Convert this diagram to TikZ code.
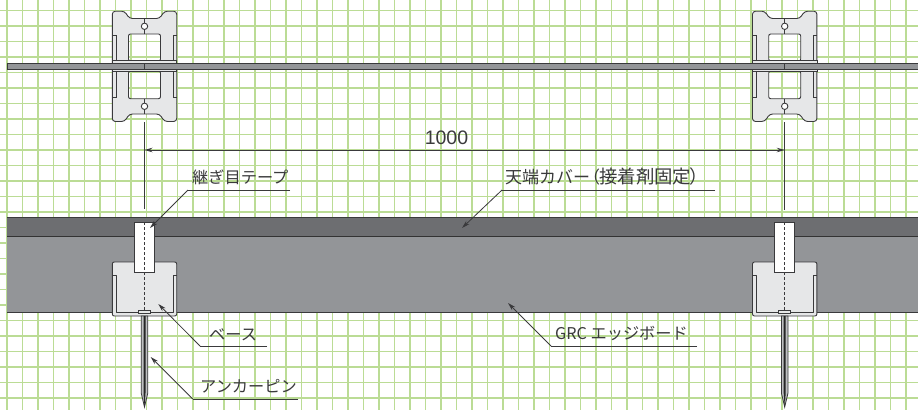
\documentclass[tikz,border=0pt]{standalone}
\usepackage{fontspec}
\setmainfont{Liberation Sans}
\newfontfamily\jp{Noto Sans CJK JP}
\usetikzlibrary{arrows.meta}
\definecolor{gridg}{HTML}{BBDC95}
\definecolor{clipf}{HTML}{E6E7E8}
\definecolor{cover}{HTML}{6D6E71}
\definecolor{board}{HTML}{939598}
\definecolor{ink}{HTML}{3A3A3C}
\tikzset{
  outl/.style={draw=ink,line width=0.9pt},
  leader/.style={draw=ink,line width=0.8pt,-{Stealth[length=8pt,width=4.5pt]}},
  uline/.style={draw=ink,line width=1pt},
  lab/.style={font=\jp\fontsize{16.2}{16.2}\selectfont,text=ink,inner sep=0pt},
  clippart/.pic={
    \fill[clipf,draw=ink,line width=0.9pt,even odd rule,rounded corners=3pt]
      (-32.2,11.2) -- (-20,11.2) -- (-15,18.5) -- (15,18.5) -- (20,11.2)
      -- (32.2,11.2) -- (32.2,121.5) -- (20,121.5) -- (15,114) -- (-15,114) -- (-20,121.5)
      -- (-32.2,121.5) -- cycle
      [rounded corners=2pt]
      (-16,34) -- (16,34) -- (16,61) -- (-16,61) -- cycle
      (-16,71) -- (16,71) -- (16,98.7) -- (-16,98.7) -- cycle;
    \draw[outl] (-32.2,35) -- (-28.5,35) -- (-28.5,60);
    \draw[outl] (32.2,35) -- (28.5,35) -- (28.5,60);
    \draw[outl] (-32.2,97.5) -- (-28.5,97.5) -- (-28.5,71);
    \draw[outl] (32.2,97.5) -- (28.5,97.5) -- (28.5,71);
    \fill[clipf,draw=ink,line width=0.6pt] (-32.2,60.5) rectangle (32.2,71.5);
    \draw[outl] (0,18.5) -- (0,34) (0,98.7) -- (0,114);
    \filldraw[fill=white,draw=ink,line width=0.9pt] (0,26.3) circle (3.2);
    \filldraw[fill=white,draw=ink,line width=0.9pt] (0,106.3) circle (3.2);
  },
  basepart/.pic={
    \fill[clipf,draw=ink,line width=0.9pt,rounded corners=2pt] (-32.2,316) -- (-32.2,262) -- (32.2,262) -- (32.2,316) -- cycle;
    \draw[outl,line join=round] (-32.2,275) -- (-28.5,275) -- (-28.5,312.5) -- (28.5,312.5) -- (28.5,275) -- (32.2,275);
    \fill[white,draw=ink,line width=0.9pt] (-9.8,222) rectangle (9.8,272);
    \draw[ink,line width=0.9pt,dash pattern=on 3pt off 2pt] (0,222) -- (0,310);
    \fill[clipf,draw=ink,line width=0.8pt] (-6,310) rectangle (6,313.4);
    \fill[board!60!white,draw=ink,line width=0.8pt] (-3.3,316) -- (-3.3,393) -- (0,407) -- (3.3,393) -- (3.3,316) -- cycle;
    \fill[black!85] (-1,316) -- (-1,393) -- (0,407) -- (1,393) -- (1,316) -- cycle;
  }
}
\begin{document}
\begin{tikzpicture}[x=1pt,y=-1pt]
\useasboundingbox (0,0) rectangle (918,410);
\fill[white] (0,0) rectangle (918,410);
% grid
\foreach \k in {0,...,58} \draw[gridg,line width=1.2pt] ({7+15.5*\k},0) -- ({7+15.5*\k},410);
\foreach \k in {0,...,25} \draw[gridg,line width=1.2pt] (0,{10.5+15.5*\k}) -- (918,{10.5+15.5*\k});
% board
\fill[cover] (7,217) rectangle (918,236);
\fill[board] (7,236) rectangle (918,312.7);
\draw[ink,line width=0.9pt] (918,217) -- (7,217);
\draw[black!80,line width=0.9pt] (7,236) -- (918,236);
\draw[ink,line width=0.9pt] (7,312.7) -- (918,312.7);
% clips
\pic at (144.5,0) {clippart};
\pic at (784.7,0) {clippart};
\fill[board,draw=ink,line width=0.9pt] (7,63.3) rectangle (918,69.3);
\draw[ink,line width=0.9pt] (144.5,63.3) -- (144.5,69.3) (784.7,63.3) -- (784.7,69.3);
% bases
\pic at (144.5,0) {basepart};
\pic at (784.7,0) {basepart};
% dimension
\coordinate (dl) at (144.5,150);
\coordinate (dr) at (784.7,150);
\draw[ink,line width=0.8pt] (144.5,122) -- (144.5,209);
\draw[ink,line width=0.8pt] (784.7,122) -- (784.7,210);
\draw[ink,line width=0.8pt,{Stealth[length=8pt,width=4.5pt]}-{Stealth[length=8pt,width=4.5pt]}] (dl) -- (dr);
\node[font=\fontsize{19.5}{19.5}\selectfont,text=ink,inner sep=0pt] (dim) at (446.5,138) {1000};
% leaders
\node[lab,anchor=west] (t1) at (192,177.5) {継ぎ目テープ};
\coordinate (t1a) at (188,190); \coordinate (t1b) at (290,190); \coordinate (t1t) at (150,228);
\draw[uline] (t1b) -- (t1a); \draw[leader] (t1a) -- (t1t);
\node[lab,anchor=west] (t2) at (505,177) {\fontsize{17}{17}\selectfont 天端カバー\kern-7pt（\kern-1pt\fontsize{18.4}{18.4}\selectfont 接着剤固定\kern-2pt）};
\coordinate (t2a) at (502,190); \coordinate (t2b) at (715,190); \coordinate (t2t) at (462,228);
\draw[uline] (t2b) -- (t2a); \draw[leader] (t2a) -- (t2t);
\node[lab,anchor=west] (t3) at (209,335) {ベース};
\coordinate (t3a) at (200,346); \coordinate (t3b) at (267,346); \coordinate (t3t) at (158.3,304);
\draw[uline] (t3b) -- (t3a); \draw[leader] (t3a) -- (t3t);
\node[lab,anchor=west] (t4) at (200,386) {アンカーピン};
\coordinate (t4a) at (192.7,399); \coordinate (t4b) at (298,399); \coordinate (t4t) at (150.7,357);
\draw[uline] (t4b) -- (t4a); \draw[leader] (t4a) -- (t4t);
\node[lab,anchor=west] (t5) at (555,333) {GRC エッジボード};
\coordinate (t5a) at (551,346); \coordinate (t5b) at (697,346); \coordinate (t5t) at (508,303);
\draw[uline] (t5b) -- (t5a); \draw[leader] (t5a) -- (t5t);
\end{tikzpicture}
\end{document}
